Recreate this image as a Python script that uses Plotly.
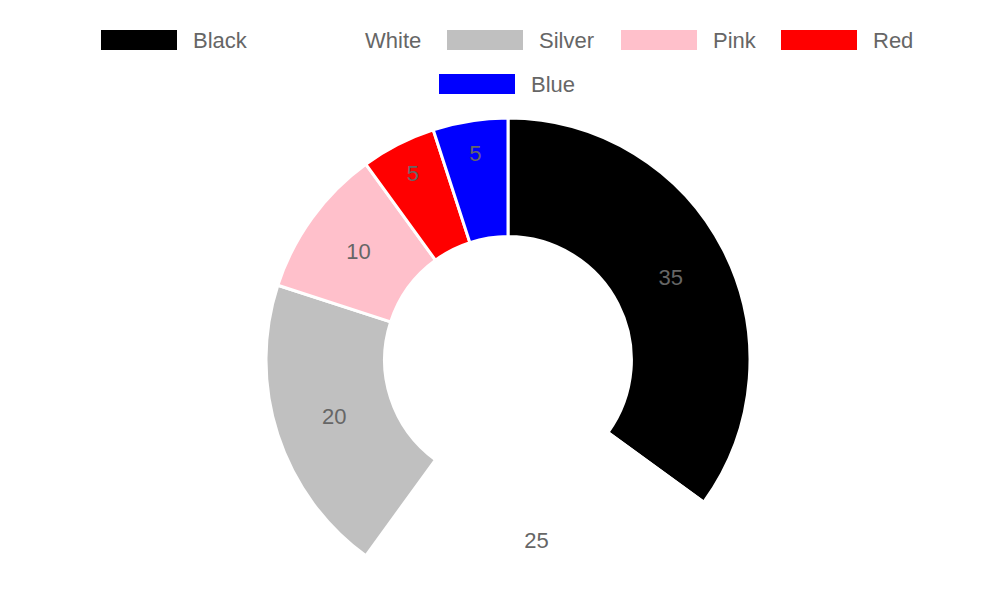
import plotly.graph_objects as go

labels = ["Black", "White", "Silver", "Pink", "Red", "Blue"]
values = [35, 25, 20, 10, 5, 5]
colors = ["#000000", "#ffffff", "#c0c0c0", "#ffc0cb", "#ff0000", "#0000ff"]

W, H = 1000, 600
fig = go.Figure(go.Pie(
    labels=labels, values=values, sort=False, direction="clockwise", rotation=0,
    hole=0.51, marker=dict(colors=colors, line=dict(color="white", width=3)),
    textinfo="value", textposition="inside", insidetextorientation="horizontal",
    textfont=dict(color="#666666", size=22, family="Liberation Sans"),
    domain=dict(x=[0.258, 0.742], y=[0.01, 0.8167]), showlegend=False,
    hoverinfo="label+value",
))

# custom legend (box left x, row y in pixels)
leg_pos = [(93, 32), (265, 32), (439, 32), (613, 32), (773, 32), (431, 76)]
shapes, annots = [], []
for (x, y), lab, col in zip(leg_pos, labels, colors):
    shapes.append(dict(type="rect", xref="paper", yref="paper",
                       x0=x / W, x1=(x + 76) / W, y0=1 - (y + 10) / H, y1=1 - (y - 10) / H,
                       fillcolor=col, line=dict(width=0)))
    annots.append(dict(xref="paper", yref="paper", x=(x + 90) / W, y=1 - y / H,
                       text=lab, showarrow=False, xanchor="left", yanchor="middle",
                       font=dict(size=22, color="#666666", family="Liberation Sans")))

fig.update_layout(width=W, height=H, margin=dict(l=0, r=0, t=0, b=0),
                  paper_bgcolor="white", plot_bgcolor="white",
                  shapes=shapes, annotations=annots)
fig.write_html("out.html")
